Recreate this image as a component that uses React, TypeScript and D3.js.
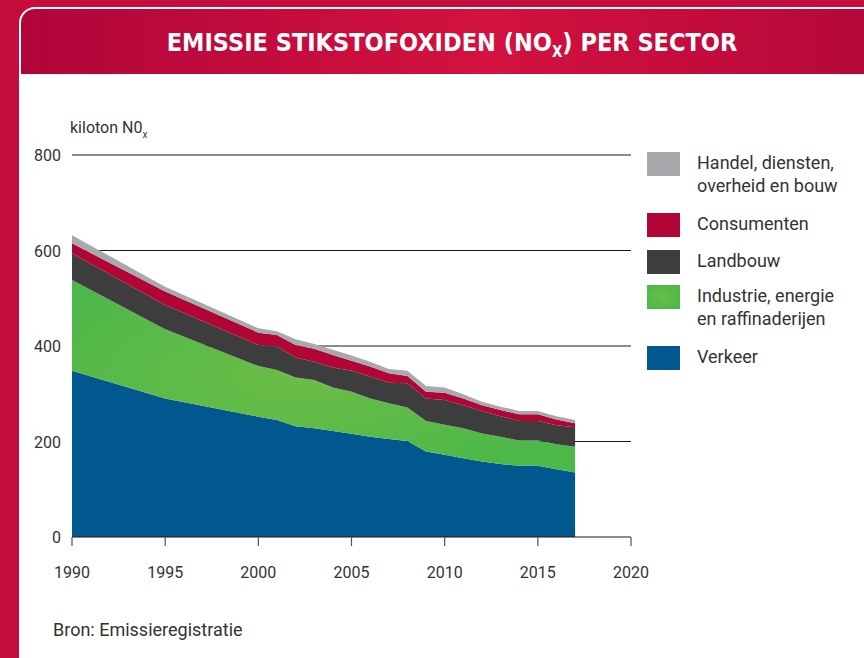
import React, { useEffect } from "react";
import * as d3 from "d3";

// jaren met een datapunt (1990, 1995, daarna jaarlijks)
const years = [1990, 1995, 2000, 2001, 2002, 2003, 2004, 2005, 2006, 2007, 2008, 2009, 2010, 2011, 2012, 2013, 2014, 2015, 2016, 2017];

// kiloton NOx per sector
const verkeer = [348, 290, 252, 245, 232, 228, 222, 216, 210, 205, 201, 179, 172, 165, 158, 153, 149, 149, 142, 135];
const industrie = [190, 145, 106, 105, 102, 101, 91, 88, 80, 75, 70, 64, 63, 63, 59, 57, 53, 53, 52, 54];
const landbouw = [56, 51, 44, 49, 42, 38, 42, 44, 46, 43, 51, 47, 52, 48, 47, 43, 41, 41, 40, 41];
const consumenten = [21, 28, 26, 24, 26, 27, 26, 21, 21, 20, 15, 14, 15, 14, 12, 13, 14, 14, 12, 8];
const handel = [17, 10, 9, 8, 12, 10, 11, 11, 10, 9, 11, 12, 11, 9, 7, 7, 7, 7, 7, 7];

const sectorKeys = ["verkeer", "industrie", "landbouw", "consumenten", "handel"];
const yTicks = [0, 200, 400, 600, 800];
const xTicks = [1990, 1995, 2000, 2005, 2010, 2015, 2020];

const fills = {
  verkeer: "#00588f",
  industrie: "url(#greenGrad)",
  landbouw: "#3d3d3d",
  consumenten: "#b10535",
  handel: "#a8a9ad",
};

// legenda van boven naar beneden
const legend = [
  { key: "handel", lines: ["Handel, diensten,", "overheid en bouw"] },
  { key: "consumenten", lines: ["Consumenten"] },
  { key: "landbouw", lines: ["Landbouw"] },
  { key: "industrie", lines: ["Industrie, energie", "en raffinaderijen"] },
  { key: "verkeer", lines: ["Verkeer"] },
];
const legendTops = [152, 213, 250, 285, 346];

const FONT = "Roboto, 'DejaVu Sans', sans-serif";
const TEXT = "#333333";

export default function App() {
  useEffect(() => {
    document.body.style.margin = "0";
  }, []);

  const width = 864;
  const height = 658;

  const x = d3.scaleLinear().domain([1990, 2020]).range([72, 631]);
  const y = d3.scaleLinear().domain([0, 800]).range([537, 155]);

  const rows = years.map((yr, i) => ({
    year: yr,
    verkeer: verkeer[i],
    industrie: industrie[i],
    landbouw: landbouw[i],
    consumenten: consumenten[i],
    handel: handel[i],
  }));

  const series = d3.stack().keys(sectorKeys)(rows);

  const area = d3
    .area()
    .x((d) => x(d.data.year))
    .y0((d) => y(d[0]))
    .y1((d) => y(d[1]));

  return (
    <svg
      width={width}
      height={height}
      style={{ display: "block", position: "absolute", left: 0, top: 0 }}
    >
      <defs>
        <linearGradient id="headGrad" x1="0" x2="1" y1="0" y2="0">
          <stop offset="0" stopColor="#b0053a" />
          <stop offset="0.55" stopColor="#d3123f" />
          <stop offset="1" stopColor="#b5073a" />
        </linearGradient>
        <radialGradient id="greenGrad" cx="0.45" cy="0.5" r="0.6">
          <stop offset="0" stopColor="#6bbd46" />
          <stop offset="1" stopColor="#4cb849" />
        </radialGradient>
      </defs>

      {/* achtergrond en kaart */}
      <rect x={0} y={0} width={width} height={height} fill="#c40d3d" />
      <rect x={19} y={7} width={900} height={700} rx={16} fill="#ffffff" />
      <path d="M21,74 V23 A14,14 0 0 1 35,9 H870 V74 Z" fill="url(#headGrad)" />

      <text
        x={452}
        y={51}
        textAnchor="middle"
        fill="#ffffff"
        fontFamily="'DejaVu Sans Condensed', 'DejaVu Sans', sans-serif"
        fontWeight="bold"
        fontSize={25}
      >
        EMISSIE STIKSTOFOXIDEN (NO
        <tspan fontSize={15} dy={6}>X</tspan>
        <tspan dy={-6}>) PER SECTOR</tspan>
      </text>

      {/* eenheid */}
      <text x={70} y={133} fill={TEXT} fontFamily={FONT} fontSize={16}>
        kiloton N0
        <tspan fontSize={10} dy={5}>x</tspan>
      </text>

      {/* rasterlijnen */}
      {yTicks.slice(1).map((t) => (
        <line key={t} x1={72} x2={631} y1={y(t)} y2={y(t)} stroke="#1a1a1a" strokeWidth={1.2} />
      ))}

      {/* gestapelde vlakken */}
      {series.map((s) => (
        <path key={s.key} d={area(s)} fill={fills[s.key]} />
      ))}

      {/* x-as */}
      <line x1={72} x2={631} y1={y(0)} y2={y(0)} stroke="#1a1a1a" strokeWidth={1.2} />
      {xTicks.map((t) => (
        <g key={t}>
          <line x1={x(t)} x2={x(t)} y1={y(0)} y2={y(0) + 9} stroke="#555" strokeWidth={1.2} />
          <text x={x(t)} y={578} textAnchor="middle" fill={TEXT} fontFamily={FONT} fontSize={16}>
            {t}
          </text>
        </g>
      ))}

      {/* y-as labels */}
      {yTicks.map((t) => (
        <text key={t} x={61} y={y(t) + 6} textAnchor="end" fill={TEXT} fontFamily={FONT} fontSize={16}>
          {t}
        </text>
      ))}

      {/* legenda */}
      {legend.map((l, i) => (
        <g key={l.key}>
          <rect x={647} y={legendTops[i]} width={33} height={24} fill={fills[l.key]} />
          {l.lines.map((line, j) => (
            <text
              key={j}
              x={697}
              y={legendTops[i] + 17 + j * 23}
              fill={TEXT}
              fontFamily={FONT}
              fontSize={18}
            >
              {line}
            </text>
          ))}
        </g>
      ))}

      <text x={53} y={636} fill={TEXT} fontFamily={FONT} fontSize={18}>
        Bron: Emissieregistratie
      </text>
    </svg>
  );
}
